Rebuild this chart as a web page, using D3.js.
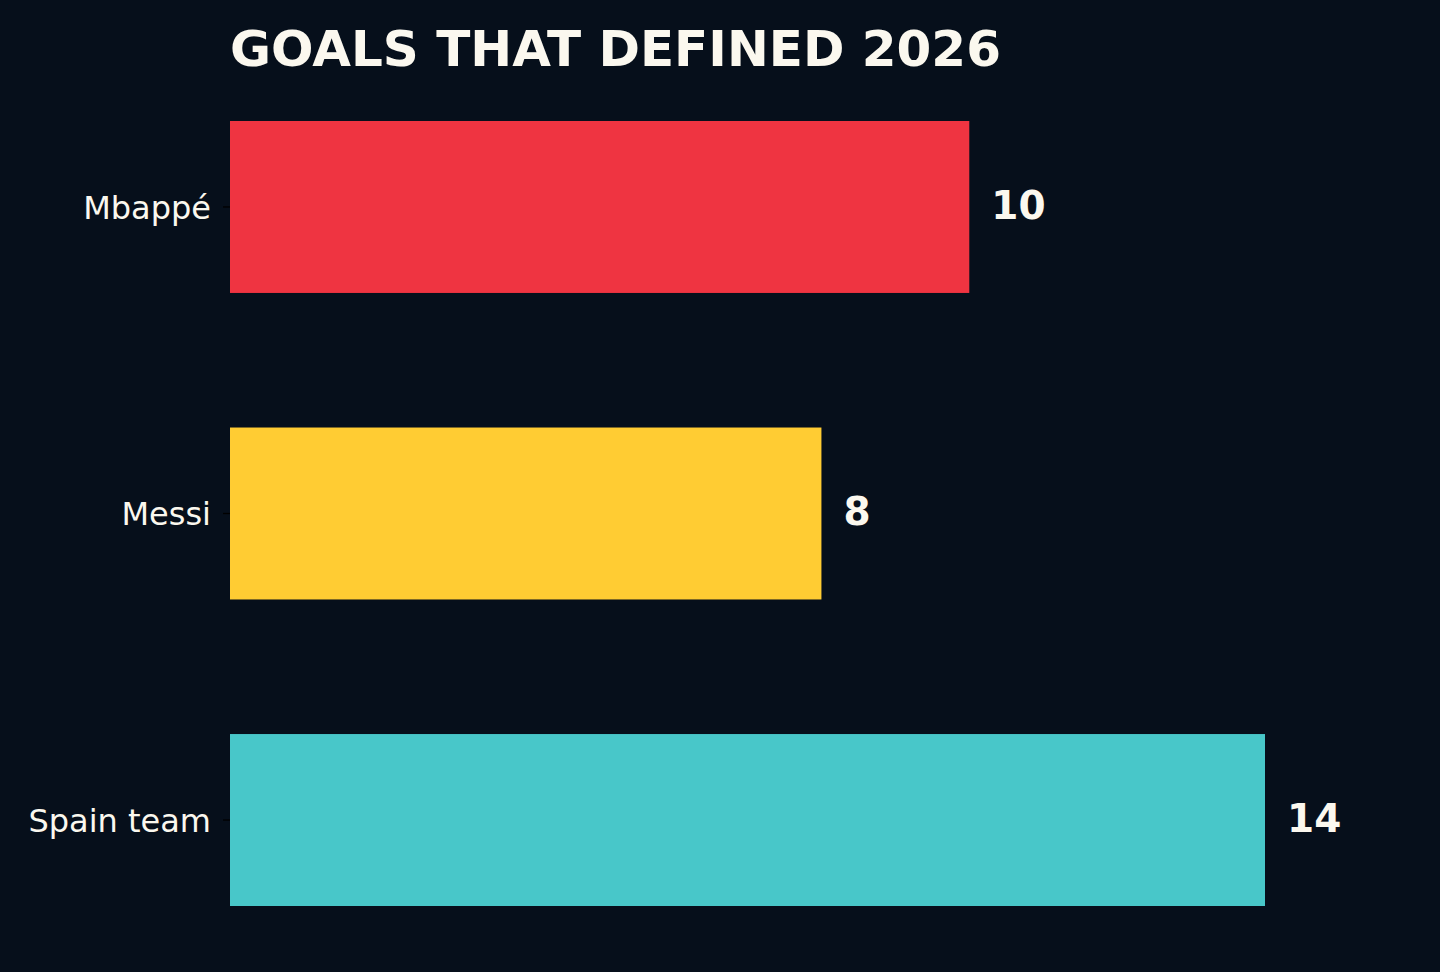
<!DOCTYPE html>
<html>
<head>
<meta charset="utf-8">
<script src="https://cdn.jsdelivr.net/npm/d3@7"></script>
<style>
  html, body { margin: 0; padding: 0; background: #060f1b; }
  svg { display: block; }
</style>
</head>
<body>
<div id="chart"></div>
<script>
// data
var names = ["Mbappé", "Messi", "Spain team"];
var goals = [10, 8, 14];
var barColors = ["#ef3441", "#ffcc33", "#48c7c9"];
var chartTitle = "GOALS THAT DEFINED 2026";

var w = 1440;
var h = 972;
var left = 230;
var textColor = "#fbf8ef";

var svg = d3.select("#chart")
            .append("svg")
            .attr("width", w)
            .attr("height", h);

svg.append("rect")
    .attr("width", w)
    .attr("height", h)
    .attr("fill", "#060f1b");

var x = d3.scaleLinear()
    .domain([0, 14])
    .range([left, 1265]);

var y = d3.scaleBand()
    .domain(names)
    .range([121, 906])
    .paddingInner(0.439)
    .paddingOuter(0);

var rows = names.map(function(n, i) {
    return { name: n, value: goals[i], color: barColors[i] };
});

svg.selectAll("rect.bar")
    .data(rows)
    .enter()
    .append("rect")
    .attr("class", "bar")
    .attr("x", x(0))
    .attr("y", function(d) { return y(d.name); })
    .attr("width", function(d) { return x(d.value) - x(0); })
    .attr("height", y.bandwidth())
    .attr("fill", function(d) { return d.color; });

// value labels
svg.selectAll("text.val")
    .data(rows)
    .enter()
    .append("text")
    .attr("class", "val")
    .attr("x", function(d) { return x(d.value) + 22; })
    .attr("y", function(d) { return y(d.name) + y.bandwidth() / 2; })
    .attr("dy", "0.3em")
    .attr("font-family", "DejaVu Sans")
    .attr("font-weight", "bold")
    .attr("font-size", 39)
    .attr("fill", textColor)
    .text(function(d) { return d.value; });

// y axis
var yAxis = svg.append("g")
    .attr("transform", "translate(" + left + ",0)")
    .call(d3.axisLeft(y).tickSize(7).tickPadding(12));

yAxis.select(".domain").remove();
yAxis.selectAll(".tick line").attr("stroke", "#000").attr("stroke-width", 1.3);
yAxis.selectAll(".tick text")
    .attr("font-family", "DejaVu Sans")
    .attr("font-size", 32)
    .attr("fill", textColor)
    .attr("dy", "0.36em");

svg.append("text")
    .attr("x", left)
    .attr("y", 66)
    .attr("font-family", "DejaVu Sans")
    .attr("font-weight", "bold")
    .attr("font-size", 50)
    .attr("fill", textColor)
    .text(chartTitle);
</script>
</body>
</html>
